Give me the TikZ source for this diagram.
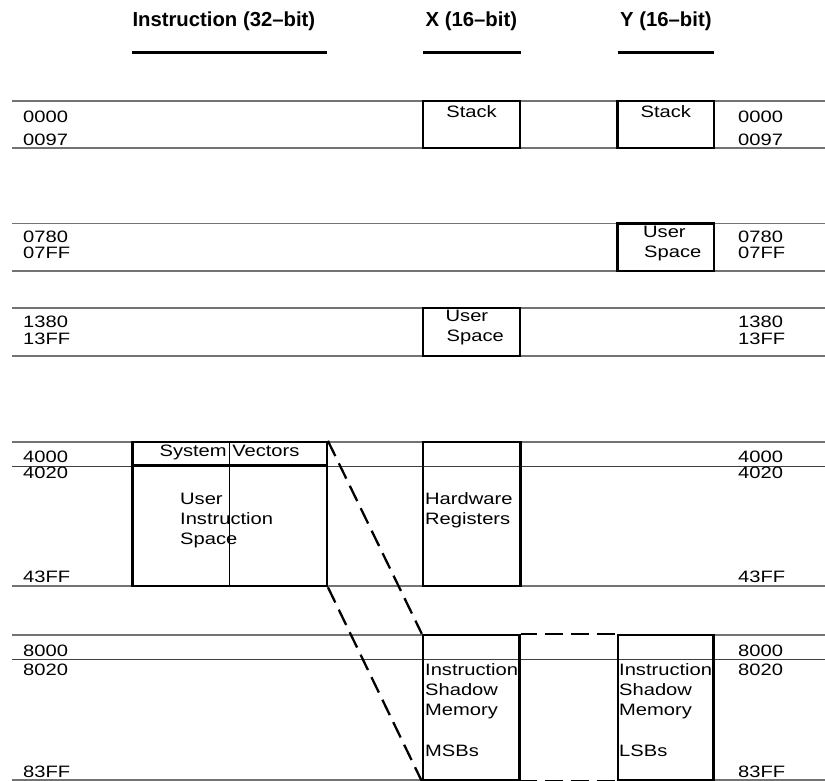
\documentclass[tikz,border=0pt]{standalone}
\usepackage{fontspec}
\setmainfont{Liberation Sans}[FakeStretch=1.22]
\newfontfamily\hdfont{Liberation Sans}
\definecolor{linegray}{RGB}{115,115,115}
\begin{document}
\begin{tikzpicture}[x=1pt,y=-1pt,
  gline/.style={draw=linegray,line width=1.5pt},
  tline/.style={draw=black!75,line width=0.8pt},
  box/.style={draw=black,line width=2.4pt,inner sep=0pt,rectangle},
  hline/.style={draw=black,line width=3pt},
  dline/.style={draw=black,line width=2.3pt,dash pattern=on 17pt off 8pt},
  hdline/.style={draw=black,line width=2.3pt,dash pattern=on 18pt off 8pt,dash phase=2pt},
  lbl/.style={inner sep=0pt,font=\fontsize{16.5}{19}\selectfont},
  hd/.style={inner sep=0pt,font=\hdfont\bfseries\fontsize{20.3}{24}\selectfont}]
\useasboundingbox (0,0) rectangle (825,781);
% headers
\node[hd,anchor=base west] (h1) at (132.3,27) {Instruction (32–bit)};
\node[hd,anchor=base west] (h2) at (425.5,27) {X (16–bit)};
\node[hd,anchor=base west] (h3) at (620,27) {Y (16–bit)};
\draw[hline] (132.3,52.7) -- (326.7,52.7);
\draw[hline] (423,52.7) -- (520.5,52.7);
\draw[hline] (617.5,52.7) -- (714,52.7);
% address rows
\foreach \yy in {101,148,223.5,271,308,356,442,586}
  \draw[gline] (12,\yy) -- (825,\yy);
\foreach \yy in {635,780}{
  \draw[gline] (12,\yy) -- (423,\yy);
  \draw[gline] (713.5,\yy) -- (825,\yy);
}
\foreach \yy in {466,659.5}
  \draw[tline] (12,\yy) -- (825,\yy);
% address labels
\foreach \nm/\yy/\tx in {a1/122.5/0000,a2/145.5/0097,a3/242/0780,a4/258.7/07FF,a5/327/1380,a6/344.3/13FF,a7/462/4000,a8/478.7/4020,a9/582.7/43FF,a10/656.7/8000,a11/675.3/8020,a12/777.7/83FF}{
  \node[lbl,anchor=base west] (l\nm) at (23,\yy) {\tx};
  \node[lbl,anchor=base west] (r\nm) at (738,\yy) {\tx};
}
% boxes
\node[box,minimum width=97,minimum height=47] (xstack) at (471.5,124.5) {};
\node[box,minimum width=96.5,minimum height=47] (ystack) at (665.75,124.5) {};
\node[box,minimum width=96.5,minimum height=47.5] (yuser) at (665.75,247.25) {};
\node[box,minimum width=97,minimum height=48] (xuser) at (471.5,332) {};
\node[box,minimum width=194.4,minimum height=144] (instr) at (229.5,514) {};
\node[box,minimum width=97.5,minimum height=144] (hw) at (471.75,514) {};
\node[box,minimum width=96.5,minimum height=145] (shx) at (471.25,707.5) {};
\node[box,minimum width=95.5,minimum height=145] (shy) at (665.75,707.5) {};
\coordinate (dv) at (0,465.5);
\draw[box] (instr.west |- dv) -- (instr.east |- dv);
\draw[line width=0.9pt] (instr.north) -- (instr.south);
% box texts
\node[lbl,anchor=base] (tstx) at (471.5,117.5) {Stack};
\node[lbl,anchor=base] (tsty) at (665.75,117.5) {Stack};
\node[lbl,anchor=base west] (tyu1) at (643,237.7) {User};
\node[lbl,anchor=base west] (tyu2) at (644,257.7) {Space};
\node[lbl,anchor=base west] (txu1) at (445.5,321.7) {User};
\node[lbl,anchor=base west] (txu2) at (446.5,341.7) {Space};
\node[lbl,anchor=base] (tsv) at (229.5,456.7) {System Vectors};
\node[lbl,anchor=base west] (tui1) at (180,504) {User};
\node[lbl,anchor=base west] (tui2) at (180,524.5) {Instruction};
\node[lbl,anchor=base west] (tui3) at (180,544) {Space};
\node[lbl,anchor=base west] (thw1) at (425,504) {Hardware};
\node[lbl,anchor=base west] (thw2) at (425,524.5) {Registers};
\node[lbl,anchor=base west] (tsx1) at (425,675.3) {Instruction};
\node[lbl,anchor=base west] (tsx2) at (425,695.3) {Shadow};
\node[lbl,anchor=base west] (tsx3) at (425,715.3) {Memory};
\node[lbl,anchor=base west] (tsx4) at (425,756) {MSBs};
\node[lbl,anchor=base west] (tsy1) at (619,675.3) {Instruction};
\node[lbl,anchor=base west] (tsy2) at (619,695.3) {Shadow};
\node[lbl,anchor=base west] (tsy3) at (619,715.3) {Memory};
\node[lbl,anchor=base west] (tsy4) at (619,756) {LSBs};
% dashed connectors
\draw[dline] (instr.north east) -- (shx.north west);
\draw[dline] (instr.south east) -- (shx.south west);
\draw[hdline] (shx.north east) -- (shy.north west);
\draw[hdline] (shx.south east) -- (shy.south west);
\end{tikzpicture}
\end{document}
